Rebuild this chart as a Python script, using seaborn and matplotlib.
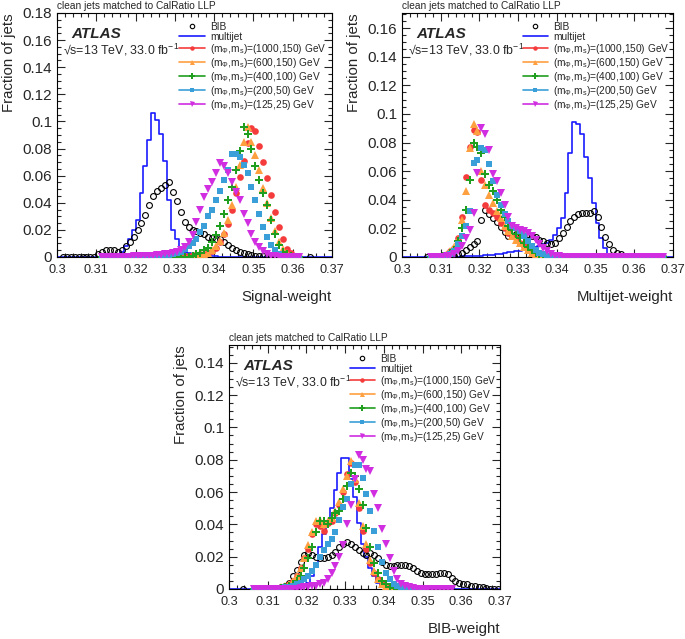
import numpy as np
import pandas as pd
import matplotlib
matplotlib.use("Agg")
import matplotlib.pyplot as plt
import seaborn as sns
from matplotlib.lines import Line2D
from matplotlib.ticker import MultipleLocator, FuncFormatter

N = float("nan")

# ---------------- binning ----------------
X_MIN, X_MAX, N_BINS = 0.30, 0.37, 70

# ---------------- labels ----------------
SERIES_LABELS = ["BIB", "multijet",
                 r"(m$_{\Phi}$,m$_{s}$)=(1000,150) GeV",
                 r"(m$_{\Phi}$,m$_{s}$)=(600,150) GeV",
                 r"(m$_{\Phi}$,m$_{s}$)=(400,100) GeV",
                 r"(m$_{\Phi}$,m$_{s}$)=(200,50) GeV",
                 r"(m$_{\Phi}$,m$_{s}$)=(125,25) GeV"]
X_LABELS = ["Signal-weight", "Multijet-weight", "BIB-weight"]
Y_LABEL = "Fraction of jets"
SELECTION = "clean jets matched to CalRatio LLP"
X_TICKS = [0.30, 0.31, 0.32, 0.33, 0.34, 0.35, 0.36, 0.37]

# ---------------- panel 1 : Signal-weight ----------------
MJ1 = [0]*10 + [0.0003, 0.0004, 0.0005, 0.0006, 0.001, 0.002, 0.004, 0.008, 0.013, 0.020,
                0.027, 0.047, 0.067, 0.086, 0.106, 0.101, 0.091, 0.071, 0.042, 0.020,
                0.0135, 0.0075, 0.004, 0.003, 0.002, 0.0015, 0.001, 0.0008, 0.0006, 0.0005,
                0.0004, 0.0003, 0.0002, 0.0002, 0.0001] + [0]*25
BIB1 = [N] + [0]*9 + [0.002, 0.004, 0.005, 0.005, 0.005, 0.004, 0.005, 0.008, 0.011, 0.015,
                      0.020, 0.025, 0.031, 0.038, 0.045, 0.049, 0.051, 0.053, 0.055, 0.048,
                      0.041, 0.033, 0.026, 0.022, 0.020, 0.019, 0.018, 0.017, 0.015, 0.014,
                      0.013, 0.013, 0.011, 0.009, 0.007, 0.005, 0.004, 0.003, 0.002, 0.0015,
                      0.001, 0.0008, 0.0005, 0.0003, 0.0002, 0, 0] + [N]*7 + [0] + [N]*5
RED1 = [N]*11 + [0]*19 + [0.0005, 0.0006, 0.0008, 0.001, 0.0012, 0.0015, 0.002, 0.0025,
                          0.003, 0.0045, 0.007, 0.011, 0.017, 0.024, 0.035, 0.047, 0.059, 0.071,
                          0.084, 0.095, 0.093, 0.082, 0.070, 0.058, 0.046, 0.033, 0.022, 0.013,
                          0.006, 0.003, 0.001, 0] + [N]*8
ORANGE1 = [N]*11 + [0]*24 + [0.001, 0.0015, 0.002, 0.003, 0.005, 0.008, 0.012, 0.018, 0.027,
                             0.038, 0.052, 0.068, 0.085, 0.096, 0.085, 0.075, 0.064, 0.051,
                             0.040, 0.029, 0.019, 0.011, 0.006, 0.003, 0.001, 0, 0] + [N]*8
GREEN1 = [N]*11 + [0]*23 + [0.001, 0.002, 0.003, 0.005, 0.007, 0.011, 0.016, 0.023, 0.032,
                            0.042, 0.052, 0.064, 0.078, 0.096, 0.091, 0.080, 0.067, 0.057,
                            0.047, 0.038, 0.027, 0.017, 0.009, 0.004, 0.002, 0.001, 0, 0] + [N]*8
CYAN1 = [N]*11 + [0]*16 + [0.001, 0.0015, 0.002, 0.003, 0.004, 0.006, 0.008, 0.010, 0.0135,
                           0.0185, 0.023, 0.030, 0.035, 0.042, 0.049, 0.057, 0.064, 0.076,
                           0.076, 0.074, 0.068, 0.062, 0.052, 0.042, 0.032, 0.022, 0.015,
                           0.009, 0.005, 0.002, 0.001, 0.0005, 0, 0, 0] + [N]*8
MAGENTA1 = [N]*11 + [0]*7 + [0.0003, 0.0004, 0.0005, 0.0006, 0.0007, 0.0008, 0.001, 0.0012,
                             0.0015, 0.002, 0.0025, 0.003, 0.004, 0.005, 0.0074, 0.011, 0.016,
                             0.026, 0.0345, 0.044, 0.050, 0.055, 0.062, 0.069, 0.067, 0.062,
                             0.055, 0.048, 0.042, 0.032, 0.025, 0.017, 0.011, 0.0074, 0.0044,
                             0.002, 0.001, 0.0005] + [0]*6 + [N]*8

# ---------------- panel 2 : Multijet-weight ----------------
MJ2 = [0]*14 + [0.0003, 0.0004, 0.0005, 0.0006, 0.0007, 0.0008, 0.001, 0.0012, 0.0014, 0.0017,
                0.002, 0.0024, 0.0028, 0.0032, 0.0036, 0.004, 0.0045, 0.005, 0.0055, 0.006,
                0.0068, 0.0077, 0.0088, 0.010, 0.012, 0.0155, 0.020, 0.027, 0.045, 0.073,
                0.094, 0.093, 0.086, 0.070, 0.055, 0.038, 0.024, 0.013, 0.006, 0.002,
                0.001, 0.0005] + [0]*14
BIB2 = [N]*6 + [0]*7 + [0.001, 0.002, 0.003, 0.005, 0.007, 0.009, 0.011, 0.0257, 0.0327, 0.030,
                        0.027, 0.0245, 0.021, 0.0175, 0.015, 0.015, 0.016, 0.0165, 0.0165, 0.016,
                        0.015, 0.014, 0.012, 0.011, 0.010, 0.009, 0.010, 0.013, 0.017, 0.021,
                        0.025, 0.028, 0.030, 0.031, 0.031, 0.031, 0.032, 0.028, 0.021, 0.014,
                        0.009, 0.005, 0.003, 0.002, 0.001, 0.0005] + [0]*9 + [N]*2
RED2 = [N]*7 + [0]*3 + [0.001, 0.002, 0.004, 0.006, 0.013, 0.028, 0.056, 0.077, 0.089, 0.087,
                        0.054, 0.036, 0.033, 0.031, 0.028, 0.024, 0.020, 0.017, 0.015, 0.013,
                        0.010, 0.008, 0.005, 0.003, 0.002, 0.001, 0.0005] + [0]*31 + [N]*2
ORANGE2 = [N]*7 + [0]*3 + [0.001, 0.002, 0.004, 0.007, 0.012, 0.026, 0.046, 0.076, 0.093, 0.088,
                           0.060, 0.050, 0.043, 0.038, 0.032, 0.027, 0.022, 0.018, 0.015, 0.012,
                           0.010, 0.007, 0.005, 0.003, 0.002, 0.001, 0.0005] + [0]*31 + [N]*2
GREEN2 = [N]*7 + [0]*3 + [0.0005, 0.001, 0.003, 0.005, 0.011, 0.020, 0.033, 0.054, 0.080, 0.077,
                          0.073, 0.058, 0.050, 0.046, 0.040, 0.033, 0.028, 0.022, 0.019, 0.016,
                          0.013, 0.010, 0.007, 0.005, 0.003, 0.002, 0.001, 0.0005] + [0]*30 + [N]*2
CYAN2 = [N]*7 + [0]*3 + [0.0005, 0.001, 0.002, 0.004, 0.009, 0.015, 0.022, 0.032, 0.066, 0.068,
                         0.076, 0.075, 0.065, 0.053, 0.043, 0.036, 0.030, 0.025, 0.022, 0.020,
                         0.018, 0.015, 0.011, 0.008, 0.005, 0.003, 0.002, 0.001, 0.0005] + [0]*29 + [N]*2
MAGENTA2 = [N]*7 + [0]*3 + [0, 0.0005, 0.001, 0.002, 0.004, 0.008, 0.013, 0.019, 0.031, 0.059,
                            0.090, 0.086, 0.075, 0.058, 0.053, 0.045, 0.036, 0.028, 0.022, 0.020,
                            0.019, 0.018, 0.017, 0.015, 0.012, 0.009, 0.006, 0.004, 0.002, 0.001,
                            0.0005] + [0]*27 + [N]*2

# ---------------- panel 3 : BIB-weight ----------------
MJ3 = [0]*15 + [0.0003, 0.0005, 0.001, 0.0015, 0.002, 0.004, 0.008, 0.016, 0.026, 0.034,
                0.040, 0.050, 0.061, 0.072, 0.081, 0.081, 0.068, 0.057, 0.041, 0.028,
                0.020, 0.013, 0.008, 0.004, 0.002, 0.001, 0.0005] + [0]*28
BIB3 = [N]*3 + [0] + [N]*2 + [0] + [N]*2 + [0]*4 + [
    0.001, 0.002, 0.004, 0.008, 0.012, 0.017, 0.021,
    0.022, 0.021, 0.020, 0.019, 0.019, 0.020, 0.021, 0.023, 0.026, 0.028,
    0.029, 0.028, 0.026, 0.024, 0.022, 0.021, 0.022, 0.021, 0.019, 0.017,
    0.015, 0.014, 0.014, 0.015, 0.015, 0.015, 0.014, 0.013, 0.011, 0.010,
    0.009, 0.009, 0.009, 0.009, 0.010, 0.010, 0.009, 0.007, 0.005, 0.004,
    0.003, 0.003, 0.002, 0.002, 0.001, 0.001, 0.0005, 0.0003, 0.0002, 0]
RED3 = [N]*6 + [0]*7 + [0.001, 0.002, 0.003, 0.005, 0.008, 0.013, 0.019, 0.025, 0.034, 0.040,
                        0.039, 0.036, 0.041, 0.042, 0.047, 0.052, 0.060, 0.071, 0.078, 0.066,
                        0.050, 0.036, 0.025, 0.016, 0.010, 0.006, 0.003, 0.002, 0.001] + [0]*4 + [N]*24
ORANGE3 = [N]*6 + [0]*7 + [0.001, 0.002, 0.003, 0.005, 0.008, 0.013, 0.019, 0.027, 0.035, 0.042,
                           0.043, 0.040, 0.042, 0.044, 0.048, 0.054, 0.062, 0.070, 0.079, 0.068,
                           0.053, 0.039, 0.028, 0.018, 0.011, 0.006, 0.003, 0.002, 0.001] + [0]*4 + [N]*24
GREEN3 = [N]*6 + [0]*7 + [0.0005, 0.001, 0.002, 0.003, 0.005, 0.008, 0.013, 0.019, 0.026, 0.035,
                          0.042, 0.042, 0.040, 0.044, 0.047, 0.048, 0.056, 0.064, 0.072, 0.070,
                          0.062, 0.052, 0.038, 0.026, 0.016, 0.010, 0.005, 0.003, 0.001, 0.0005] + [0]*3 + [N]*24
CYAN3 = [N]*6 + [0]*8 + [0.001, 0.001, 0.002, 0.003, 0.004, 0.006, 0.008, 0.011, 0.015,
                         0.020, 0.024, 0.028, 0.031, 0.035, 0.043, 0.051, 0.056, 0.065, 0.077,
                         0.077, 0.069, 0.059, 0.048, 0.036, 0.026, 0.017, 0.010, 0.006, 0.003,
                         0.002, 0.001] + [0]*5 + [N]*20
MAGENTA3 = [N]*6 + [0]*12 + [0.0005, 0.001, 0.001, 0.002, 0.002, 0.003, 0.004, 0.006, 0.010,
                             0.014, 0.020, 0.027, 0.040, 0.052, 0.068, 0.083, 0.080, 0.074, 0.073,
                             0.059, 0.050, 0.037, 0.028, 0.019, 0.011, 0.006, 0.003, 0.002, 0.001,
                             0.0005] + [0]*10 + [N]*12

PANELS = [
    dict(mj=MJ1, bib=BIB1, sig=[RED1, ORANGE1, GREEN1, CYAN1, MAGENTA1], ymax=0.18),
    dict(mj=MJ2, bib=BIB2, sig=[RED2, ORANGE2, GREEN2, CYAN2, MAGENTA2], ymax=0.1705),
    dict(mj=MJ3, bib=BIB3, sig=[RED3, ORANGE3, GREEN3, CYAN3, MAGENTA3], ymax=0.151),
]
for p in PANELS:
    for arr in [p["mj"], p["bib"]] + p["sig"]:
        assert len(arr) == N_BINS, len(arr)

# ---------------- style ----------------
SIG_COLORS = ["#f53c3c", "#ffa040", "#1f9e1f", "#3a9fd8", "#d02ee0"]
SIG_MARKERS = ["o", "^", "P", "s", "v"]
SIG_MSIZE = [4.8, 5.2, 5.6, 4.4, 5.2]
LEG_MSIZE = [3.2, 3.6, 4.0, 3.0, 3.6]
MJ_COLOR = "#1a1aff"

sns.set_style("ticks")
plt.rcParams["font.family"] = ["Liberation Sans", "DejaVu Sans"]
plt.rcParams["mathtext.fontset"] = "custom"
plt.rcParams["mathtext.rm"] = "Liberation Sans"
plt.rcParams["mathtext.it"] = "Liberation Sans:italic"
plt.rcParams["mathtext.default"] = "regular"

W, H = 685, 639
fig = plt.figure(figsize=(W / 100, H / 100), dpi=100)

# axes boxes in pixels (left, top, right, bottom)
BOXES = [(57, 13, 332, 257), (402, 13, 673, 257), (229, 345, 500, 589)]
YLAB_X = [9, 354, 181]

edges = np.linspace(X_MIN, X_MAX, N_BINS + 1)
centers = 0.5 * (edges[:-1] + edges[1:])

fmt = FuncFormatter(lambda v, p: "%g" % round(v, 4))

for k, (panel, box) in enumerate(zip(PANELS, BOXES)):
    l, t, r, b = box
    hpx = b - t
    ax = fig.add_axes([l / W, 1 - b / H, (r - l) / W, hpx / H])

    # multijet histogram (step)
    dfm = pd.DataFrame({"x": centers, "w": panel["mj"]})
    sns.histplot(data=dfm, x="x", weights="w", bins=N_BINS, binrange=(X_MIN, X_MAX),
                 element="step", fill=False, color=MJ_COLOR, linewidth=1.2, ax=ax,
                 zorder=2)

    # BIB open circles
    dfb = pd.DataFrame({"x": centers, "y": panel["bib"]}).dropna()
    sns.lineplot(data=dfb, x="x", y="y", ax=ax, linestyle="none", marker="o",
                 markersize=4.2, markerfacecolor="none", markeredgecolor="black",
                 markeredgewidth=0.8, color="black", errorbar=None, sort=False, zorder=3)

    # signal samples
    for vals, col, mk, ms in zip(panel["sig"], SIG_COLORS, SIG_MARKERS, SIG_MSIZE):
        dfs = pd.DataFrame({"x": centers, "y": vals}).dropna()
        sns.lineplot(data=dfs, x="x", y="y", ax=ax, linestyle="none", marker=mk,
                     markersize=ms, markeredgewidth=0, color=col, errorbar=None,
                     sort=False, zorder=4)

    ax.set_xlim(X_MIN, X_MAX)
    ax.set_ylim(0, panel["ymax"])
    ax.set_xlabel("")
    ax.set_ylabel("")
    ax.set_xticks(X_TICKS)
    ax.xaxis.set_minor_locator(MultipleLocator(0.002))
    ax.yaxis.set_major_locator(MultipleLocator(0.02))
    ax.yaxis.set_minor_locator(MultipleLocator(0.005))
    ax.xaxis.set_major_formatter(fmt)
    ax.yaxis.set_major_formatter(fmt)
    ax.tick_params(which="both", direction="in", top=True, right=True, width=0.8)
    ax.tick_params(which="major", length=6)
    ax.tick_params(which="minor", length=3)
    ax.tick_params(axis="x", which="major", pad=5, labelsize=9.2)
    ax.tick_params(axis="y", which="major", pad=3.5, labelsize=11)
    for s in ax.spines.values():
        s.set_linewidth(0.8)
        s.set_color("black")

    # texts
    ax.text(0.0, 1.0 + 2 / hpx, SELECTION, transform=ax.transAxes, ha="left",
            va="bottom", fontsize=7.3)
    ax.text(0.053, 1 - 20.5 / hpx, "ATLAS", transform=ax.transAxes, ha="left",
            va="center", fontsize=11, fontweight="bold", fontstyle="italic")
    ax.text(0.022, 1 - 37 / hpx, "√s=13 TeV, 33.0 fb$^{-1}$", transform=ax.transAxes,
            ha="left", va="center", fontsize=8.9)
    ax.text(1.0, -40 / hpx, X_LABELS[k], transform=ax.transAxes, ha="right",
            va="center", fontsize=10.8)
    fig.text(YLAB_X[k] / W, 1 - t / H, Y_LABEL, rotation=90, ha="center", va="top",
             fontsize=10.8)

    # legend
    handles = [Line2D([], [], linestyle="none", marker="o", markerfacecolor="none",
                      markeredgecolor="black", markersize=3.2, markeredgewidth=0.8),
               Line2D([], [], color=MJ_COLOR, lw=1.2)]
    for col, mk, ms in zip(SIG_COLORS, SIG_MARKERS, LEG_MSIZE):
        handles.append(Line2D([], [], color=col, lw=1.2, marker=mk, markersize=ms,
                              markeredgewidth=0))
    ax.legend(handles, SERIES_LABELS, loc="upper left",
              bbox_to_anchor=(0.445, 1 - 8.5 / hpx),
              frameon=False, fontsize=7.3, handlelength=2.5, handletextpad=0.5,
              labelspacing=0.0, borderpad=0, borderaxespad=0)

fig.savefig("out.png", dpi=100)
